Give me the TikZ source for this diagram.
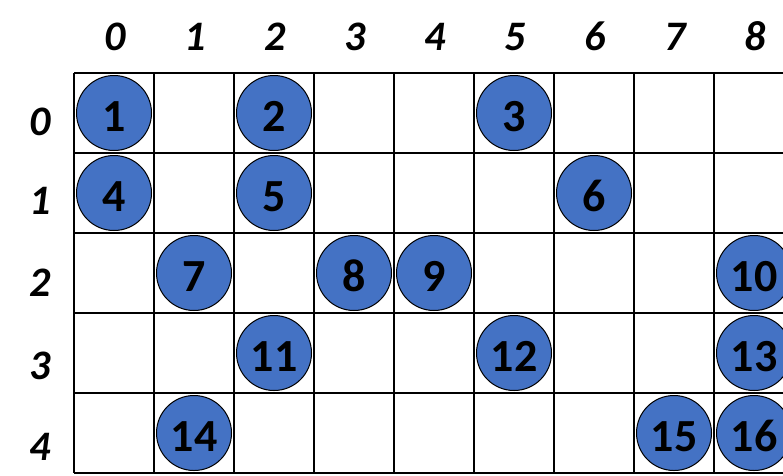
\documentclass[tikz,border=0pt]{standalone}
\usepackage{fontspec}
\newfontfamily\calfont{Carlito}
\definecolor{ballblue}{HTML}{4472C4}
\begin{document}
\begin{tikzpicture}[x=1pt,y=-1pt,
  gridline/.style={line width=2pt, black},
  ball/.style={circle, draw=black, line width=1pt, fill=ballblue, minimum size=75pt, inner sep=0pt,
    font=\calfont\bfseries\fontsize{46}{46}\selectfont, text height=37pt, text depth=0pt},
  axislabel/.style={font=\calfont\bfseries\itshape\fontsize{42}{42}\selectfont, anchor=base}]
\useasboundingbox (0,0) rectangle (783,475);
\clip (0,0) rectangle (783,475);
% grid
\foreach \i in {0,...,9} \draw[gridline] ({74+80*\i},73) -- ({74+80*\i},473);
\foreach \j in {0,...,5} \draw[gridline] (74,{73+80*\j}) -- (800,{73+80*\j});
% column labels
\foreach \i in {0,...,8} \node[axislabel] (c\i) at ({115+80*\i},50) {\i};
% row labels
\node[axislabel] (r0) at (40,135) {0};
\node[axislabel] (r1) at (40,214) {1};
\node[axislabel] (r2) at (40,296) {2};
\node[axislabel] (r3) at (40,379) {3};
\node[axislabel] (r4) at (40,460) {4};
% balls: number/col/row
\foreach \n/\c/\r in {1/0/0,2/2/0,3/5/0,4/0/1,5/2/1,6/6/1,7/1/2,8/3/2,9/4/2,10/8/2,11/2/3,12/5/3,13/8/3,14/1/4,15/7/4,16/8/4}
  \node[ball] (b\n) at ({114+80*\c},{113+80*\r}) {\n};
\end{tikzpicture}
\end{document}
